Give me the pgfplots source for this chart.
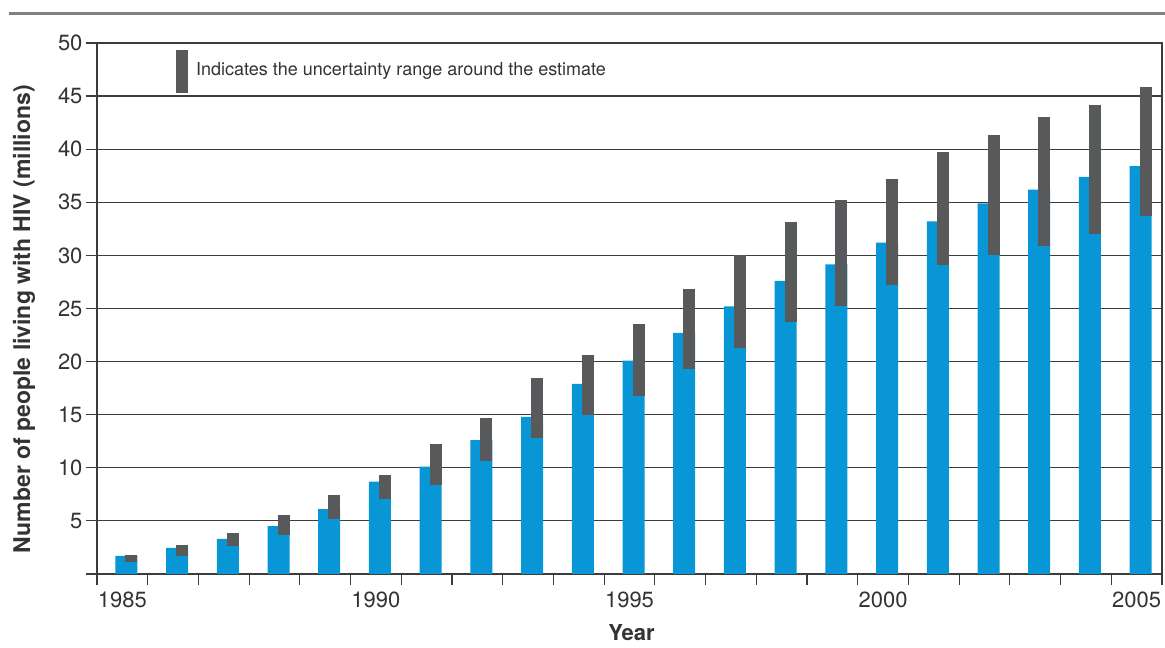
\documentclass[border=0pt]{standalone}
\usepackage{fontspec}
\setmainfont{TeX Gyre Heros}
\usepackage{pgfplots}
\pgfplotsset{compat=1.18}
\usepackage{pgfplotstable}
\definecolor{hivblue}{HTML}{0896D7}
\definecolor{rangegray}{HTML}{58595B}
\definecolor{gridc}{HTML}{3C3C3C}
\definecolor{rulec}{HTML}{808080}
\definecolor{txt}{HTML}{333333}

\pgfplotstableread{
year est lo hi
1985 1.7 1.1 1.8
1986 2.45 1.7 2.7
1987 3.3 2.6 3.9
1988 4.5 3.7 5.6
1989 6.1 5.2 7.4
1990 8.7 7.1 9.3
1991 10.1 8.4 12.2
1992 12.6 10.6 14.7
1993 14.8 12.8 18.5
1994 17.9 15.0 20.6
1995 20.1 16.8 23.5
1996 22.7 19.3 26.8
1997 25.2 21.3 30.0
1998 27.6 23.7 33.1
1999 29.15 25.2 35.2
2000 31.2 27.2 37.2
2001 33.2 29.1 39.7
2002 34.9 30.0 41.3
2003 36.2 30.9 43.0
2004 37.4 32.0 44.2
2005 38.4 33.7 45.9
}\datatable

\begin{document}
\begin{tikzpicture}[x=1pt,y=1pt]
\useasboundingbox (0,0) rectangle (1165,648);
\fill[rulec] (9,633) rectangle (1165,636);
\begin{axis}[
  at={(97pt,74pt)}, anchor=south west,
  scale only axis, width=1065pt, height=531pt,
  xmin=1984.5, xmax=2005.5, ymin=0, ymax=50,
  axis line style={gridc, line width=1.2pt},
  ymajorgrids, grid style={gridc, line width=1.2pt},
  ytick={0,5,...,50}, yticklabels={,5,10,15,20,25,30,35,40,45,50},
  xtick={1984.5,1985.5,1986.5,1987.5,1988.5,1989.5,1990.5,1991.5,1992.5,1993.5,1994.5,1995.5,1996.5,1997.5,1998.5,1999.5,2000.5,2001.5,2002.5,2003.5,2004.5,2005.5},
  xticklabels={},
  extra x ticks={1985,1990,1995,2000,2005},
  extra x tick labels={1985,1990,1995,2000,2005},
  extra x tick style={grid=none, tick style={draw=none}, xticklabel style={yshift=-3pt}},
  tick align=outside, tick pos=left,
  major tick length=11pt,
  tick style={gridc, line width=1.2pt},
  /pgf/number format/assume math mode=true,
  tick label style={font=\fontsize{22}{26}\selectfont, text=txt},
  xlabel={Year},
  ylabel={Number of people living with HIV (millions)},
  label style={font=\fontsize{22}{26}\selectfont\bfseries, text=txt},
  x label style={at={(axis description cs:0.502,-0.111)}, anchor=center},
  y label style={at={(axis description cs:-0.0685,0.48)}, rotate=0, anchor=center, font=\fontsize{23}{27}\selectfont\bfseries},
]
\addplot[ybar, bar width=22pt, bar shift=4pt, fill=hivblue, draw=none] table[x=year, y=est]{\datatable};
\addplot[draw=none, mark=none, error bars/.cd, y dir=plus, y explicit, error mark=none,
  error bar style={draw=rangegray, line width=12pt, solid}]
  table[x expr=\thisrow{year}+0.1775, y=lo, y error expr=\thisrow{hi}-\thisrow{lo}]{\datatable};
\addplot[draw=none, mark=none, error bars/.cd, y dir=plus, y explicit, error mark=none,
  error bar style={draw=rangegray, line width=12pt, solid}]
  coordinates {(1986.18,45.3) +- (0,4.0)};
\node[anchor=west, text=txt, font=\fontsize{18}{22}\selectfont, inner sep=0pt] at (axis cs:1986.452,47.36) {Indicates the uncertainty range around the estimate};
\end{axis}
\end{tikzpicture}
\end{document}
